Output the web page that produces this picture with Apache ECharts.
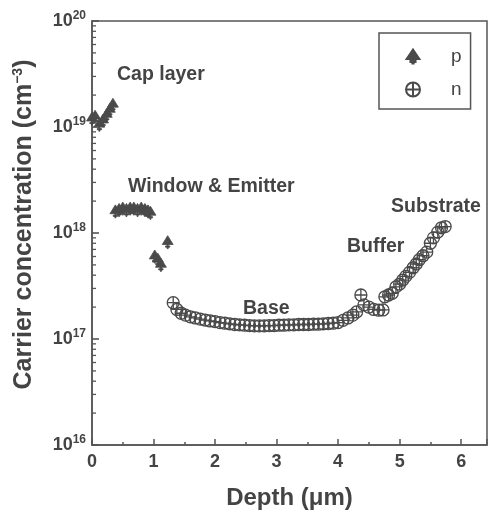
<!DOCTYPE html>
<html>
<head>
<meta charset="utf-8">
<style>
  html, body { margin: 0; padding: 0; background: #ffffff; }
  #chart { width: 490px; height: 517px; }
</style>
<script src="https://cdn.jsdelivr.net/npm/echarts@6/dist/echarts.min.js"></script>
</head>
<body>
<div id="chart"></div>
<script>
// Depth profile of carrier concentration (p- and n-type layers)
const pDepth = [0.00, 0.05, 0.12, 0.18, 0.24, 0.29, 0.34,
                0.38, 0.44, 0.50, 0.56, 0.62, 0.68, 0.74, 0.80, 0.86, 0.91, 0.95,
                1.02, 1.07, 1.12, 1.23];
const pConc  = [1.2e19, 1.25e19, 1.05e19, 1.15e19, 1.3e19, 1.45e19, 1.62e19,
                1.6e18, 1.65e18, 1.7e18, 1.65e18, 1.7e18, 1.7e18, 1.65e18, 1.7e18, 1.65e18, 1.6e18, 1.55e18,
                6.0e17, 5.6e17, 5.0e17, 8.2e17];

const nDepth = [1.32, 1.38, 1.45, 1.52, 1.60, 1.68, 1.76, 1.84, 1.92, 2.00,
                2.08, 2.16, 2.24, 2.32, 2.40, 2.48, 2.56, 2.64, 2.72, 2.80,
                2.88, 2.96, 3.04, 3.12, 3.20, 3.28, 3.36, 3.44, 3.52, 3.60,
                3.68, 3.76, 3.84, 3.92, 4.00, 4.08, 4.16, 4.24, 4.30, 4.37,
                4.42, 4.50, 4.58, 4.66, 4.73, 4.76, 4.82, 4.88, 4.94, 5.00,
                5.05, 5.10, 5.16, 5.22, 5.27, 5.32, 5.38, 5.44, 5.50, 5.55,
                5.62, 5.68, 5.74];
const nConc  = [2.2e17, 1.9e17, 1.75e17, 1.68e17, 1.62e17, 1.58e17, 1.54e17, 1.51e17, 1.48e17, 1.46e17,
                1.43e17, 1.41e17, 1.39e17, 1.37e17, 1.36e17, 1.35e17, 1.34e17, 1.33e17, 1.33e17, 1.33e17,
                1.34e17, 1.34e17, 1.35e17, 1.35e17, 1.36e17, 1.36e17, 1.37e17, 1.37e17, 1.37e17, 1.38e17,
                1.38e17, 1.39e17, 1.40e17, 1.41e17, 1.43e17, 1.50e17, 1.58e17, 1.68e17, 1.80e17, 2.6e17,
                2.1e17, 2.0e17, 1.9e17, 1.87e17, 1.88e17, 2.5e17, 2.6e17, 2.7e17, 3.1e17, 3.3e17,
                3.6e17, 3.9e17, 4.25e17, 4.7e17, 5.1e17, 5.6e17, 6.1e17, 6.6e17, 8.0e17, 9.0e17,
                1.02e18, 1.12e18, 1.15e18];

const seriesNames = ['p', 'n'];
const xTicks = [0, 1, 2, 3, 4, 5, 6];
const yDecades = [16, 17, 18, 19, 20];

const regionLabels = [
  { text: 'Cap layer',        x: 117, y: 76 },
  { text: 'Window & Emitter', x: 128, y: 188 },
  { text: 'Base',             x: 243, y: 310 },
  { text: 'Buffer',           x: 347, y: 248 },
  { text: 'Substrate',        x: 391, y: 208 }
];

// tick rows of the log axis: [depth of the axis line, value, isMajor]
const yTickRows = [];
for (let d = yDecades[0]; d <= yDecades[yDecades.length - 1]; d++) {
  yTickRows.push([0, Math.pow(10, d), 1]);
  if (d < yDecades[yDecades.length - 1]) {
    for (let m = 2; m <= 9; m++) yTickRows.push([0, m * Math.pow(10, d), 0]);
  }
}

const ink = '#444';
const axisInk = '#555';
const font = "'Liberation Sans', Arial, Helvetica, sans-serif";

const pSymbol = 'path://M10,0 L20,15 L0,15 Z M9,15 L11,15 L11,22 L9,22 Z M6,17.5 L14,17.5 L14,19.5 L6,19.5 Z';
const nSymbol = 'path://M10,0 A10,10 0 1,1 10,20 A10,10 0 1,1 10,0 Z M10,0 L10,20 M0,10 L20,10';

const yMin = Math.pow(10, yDecades[0]);
const yMax = Math.pow(10, yDecades[yDecades.length - 1]);

const chart = echarts.init(document.getElementById('chart'), null, { renderer: 'canvas' });

chart.setOption({
  backgroundColor: '#ffffff',
  animation: false,
  textStyle: { fontFamily: font },
  grid: {
    left: 92, right: 2, top: 21, bottom: 72,
    show: true, borderColor: axisInk, borderWidth: 1.5, backgroundColor: 'transparent'
  },
  legend: {
    data: seriesNames,
    orient: 'vertical',
    left: 379, top: 33,
    padding: [14, 9, 10, 26],
    itemGap: 14,
    itemWidth: 14, itemHeight: 14,
    borderColor: axisInk, borderWidth: 1.5,
    textStyle: { fontSize: 19, color: ink, fontFamily: font, padding: [0, 0, 0, 26] }
  },
  xAxis: {
    type: 'value',
    min: 0, max: 6.42, interval: 1,
    name: 'Depth (\u03bcm)',
    nameLocation: 'middle', nameGap: 41,
    nameTextStyle: { fontSize: 24, fontWeight: 'bold', color: ink, fontFamily: font },
    axisLine: { show: true, lineStyle: { color: axisInk, width: 1.5 } },
    axisTick: { show: true, inside: true, length: 6, lineStyle: { color: axisInk, width: 1.5 } },
    minorTick: { show: true, splitNumber: 2, length: 3, lineStyle: { color: axisInk, width: 1.5 } },
    splitLine: { show: false },
    axisLabel: {
      margin: 8, fontSize: 18, fontWeight: 'bold', color: ink, fontFamily: font,
      formatter: v => (xTicks.indexOf(v) >= 0 ? String(v) : '')
    }
  },
  yAxis: {
    type: 'log', logBase: 10,
    min: yMin, max: yMax,
    name: '{t|Carrier concentration (cm}{s|\u22123}{t|)}',
    nameLocation: 'middle', nameGap: 54,
    nameTextStyle: {
      color: ink, fontFamily: font, padding: [0, 0, 0, 17],
      rich: {
        t: { fontSize: 25, fontWeight: 'bold', color: ink, fontFamily: font },
        s: { fontSize: 14, fontWeight: 'bold', color: ink, fontFamily: font, padding: [0, 0, 13, 0] }
      }
    },
    axisLine: { show: true, lineStyle: { color: axisInk, width: 1.5 } },
    axisTick: { show: false },
    splitLine: { show: false },
    axisLabel: {
      margin: 6, color: ink, fontFamily: font,
      formatter: v => '{b|10}{s|' + Math.round(Math.log10(v)) + '}',
      rich: {
        b: { fontSize: 18, fontWeight: 'bold', color: ink, fontFamily: font },
        s: { fontSize: 12, fontWeight: 'bold', color: ink, fontFamily: font, padding: [0, 0, 11, 0] }
      }
    }
  },
  graphic: regionLabels.map(l => ({
    type: 'text',
    left: l.x, top: l.y - 11,
    style: { text: l.text, fontSize: 19.5, fontWeight: 'bold', fill: ink, fontFamily: font }
  })),
  series: [
    {
      // inward major / minor ticks of the logarithmic concentration axis
      type: 'custom',
      silent: true,
      clip: false,
      z: 5,
      data: yTickRows,
      encode: { x: 0, y: 1 },
      renderItem: (params, api) => {
        const pt = api.coord([api.value(0), api.value(1)]);
        const major = api.value(2) === 1;
        const len = major ? 7 : 4;
        return {
          type: 'line',
          shape: { x1: pt[0], y1: pt[1], x2: pt[0] + len, y2: pt[1] },
          style: { stroke: axisInk, lineWidth: major ? 1.6 : 1.3 }
        };
      }
    },
    {
      name: seriesNames[0],
      type: 'scatter',
      symbol: pSymbol,
      symbolSize: [12, 13],
      symbolKeepAspect: true,
      itemStyle: { color: '#4a4a4a', opacity: 1, borderColor: '#4a4a4a', borderWidth: 0.8 },
      data: pDepth.map((d, i) => [d, pConc[i]])
    },
    {
      name: seriesNames[1],
      type: 'scatter',
      symbol: nSymbol,
      symbolSize: 12,
      itemStyle: { color: 'rgba(0,0,0,0)', opacity: 1, borderColor: '#4a4a4a', borderWidth: 1.3 },
      data: nDepth.map((d, i) => [d, nConc[i]])
    }
  ]
});
</script>
</body>
</html>
